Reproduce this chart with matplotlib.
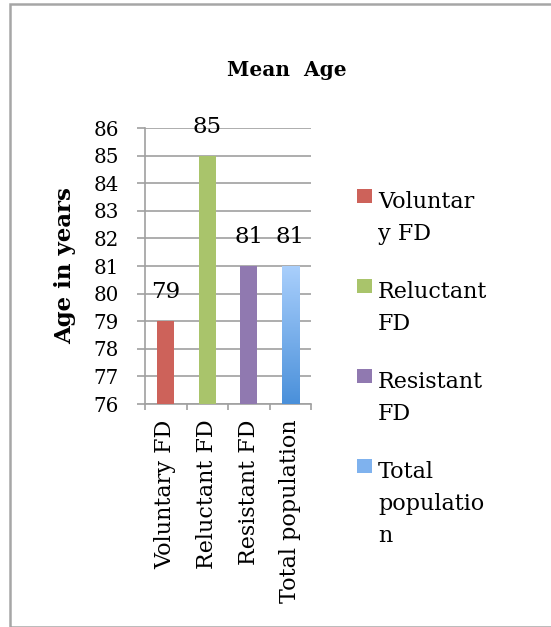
import matplotlib
matplotlib.use("Agg")
import matplotlib.pyplot as plt
import numpy as np
from matplotlib.patches import Rectangle
from matplotlib.colors import LinearSegmentedColormap

categories = ["Voluntary FD", "Reluctant FD", "Resistant FD", "Total population"]
legend_labels = ["Voluntar\ny FD", "Reluctant\nFD", "Resistant\nFD", "Total\npopulatio\nn"]
values = [79, 85, 81, 81]
colors = ["#cd625a", "#a9c46b", "#9079b0", "#7fb2ee"]
y_ticks = [76, 77, 78, 79, 80, 81, 82, 83, 84, 85, 86]

W, H = 551, 627
fig = plt.figure(figsize=(W / 100, H / 100), dpi=100)
plt.rcParams['font.family'] = ['DejaVu Serif']

# outer border
fig.patches.append(Rectangle((9.5 / W, 1 - 626.5 / H), 1.0, 623 / H,
                             transform=fig.transFigure, fill=False,
                             edgecolor="#a6a6a6", lw=1.8))

ax = fig.add_axes([145 / W, (H - 404) / H, (311 - 145) / W, (404 - 128) / H])
x = np.arange(len(categories))
bars = ax.bar(x, values, width=0.42, color=colors, zorder=3)

# gradient for the Total population bar
grad = LinearSegmentedColormap.from_list("g", ["#4a90da", "#a9cffc"])
b = bars[3]
bx, bw, bh = b.get_x(), b.get_width(), b.get_height()
img = np.linspace(0, 1, 256).reshape(-1, 1)
im = ax.imshow(img, cmap=grad, origin="lower", aspect="auto",
               extent=[bx, bx + bw, y_ticks[0], bh], zorder=3.5)
im.set_clip_path(b)
ax.set_xlim(-0.5, len(categories) - 0.5)
ax.set_ylim(y_ticks[0], y_ticks[-1])

ax.set_yticks(y_ticks)
ax.set_yticklabels([str(v) for v in y_ticks], fontsize=14.3)
ax.grid(axis="y", color="#a0a0a0", lw=1.2, zorder=0)
ax.tick_params(axis="y", length=5.8, color="#a0a0a0", width=1.2, pad=13)

ax.set_xticks(x)
ax.set_xticklabels(categories, rotation=90, fontsize=16, va="top")
ax.set_xticks(np.arange(len(categories) + 1) - 0.5, minor=True)
ax.tick_params(axis="x", which="major", length=0, pad=11)
ax.tick_params(axis="x", which="minor", length=4.5, color="#a0a0a0", width=1.2)

for s in ["top", "right"]:
    ax.spines[s].set_visible(False)
for s in ["left", "bottom"]:
    ax.spines[s].set_color("#a0a0a0")
    ax.spines[s].set_linewidth(1.2)

ax.bar_label(bars, labels=[str(v) for v in values], padding=13, fontsize=16.5)

ax.set_ylabel("Age in years", fontsize=16.5, fontweight="bold")
ax.yaxis.set_label_coords(-0.416, 0.5)

fig.text(287 / W, 1 - 70 / H, "Mean  Age", ha="center", va="center",
         fontsize=14.5, fontweight="bold")

# legend drawn entry by entry
entry_tops = [189, 279, 369, 459]
for c, lab, top in zip(colors, legend_labels, entry_tops):
    fig.patches.append(Rectangle((357 / W, 1 - (top + 14) / H), 15 / W, 14 / H,
                                 transform=fig.transFigure, facecolor=c,
                                 edgecolor="none"))
    fig.text(378 / W, 1 - (top + 2) / H, lab, ha="left", va="top",
             fontsize=16, linespacing=1.6)

fig.savefig("out.png", dpi=100)
